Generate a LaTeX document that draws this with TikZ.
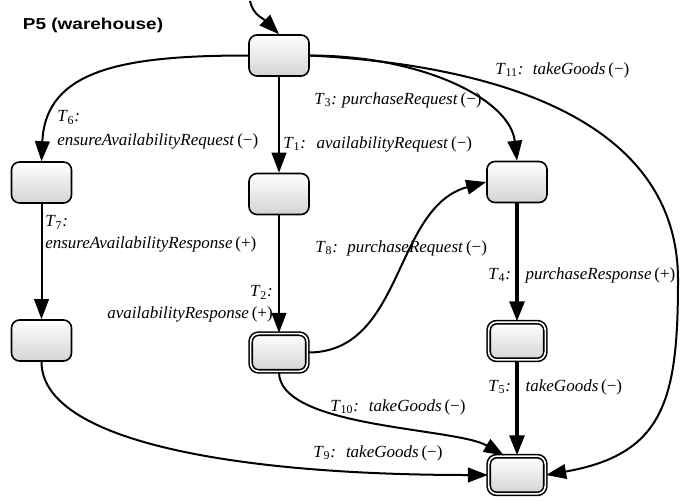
\documentclass[tikz,border=0pt]{standalone}
\usepackage{fontspec}
\setmainfont{Liberation Serif}
\newfontfamily\titlefont{Liberation Sans}[FakeStretch=1.2]
\usetikzlibrary{arrows.meta,positioning}

\newcommand{\tlab}[2]{\textit{T}\textsubscript{#1}\textit{:}\hspace{#2}}
\newcommand{\act}[2]{\textit{#1}\,(#2)}

\begin{document}
\begin{tikzpicture}[x=0.75pt, y=0.75pt,
    state/.style={rectangle, draw, line width=1.2pt, rounded corners=6pt, top color=white, bottom color=black!17, minimum width=45pt, minimum height=30.75pt, inner sep=0pt},
    accept/.style={state, double, double distance=1.2pt, minimum width=42.5pt, minimum height=28.25pt},
    line/.style={draw, -{Triangle[length=15pt,width=11pt]}, line width=1.5pt},
    heavy/.style={line, line width=2.8pt},
    lbl/.style={inner sep=0pt, font=\fontsize{12.75}{16.5}\selectfont}]

    \useasboundingbox (0,0) rectangle (680,-500);

    \node [anchor=base west, inner sep=0pt, font=\titlefont\bfseries\fontsize{11.85}{14}\selectfont] (title) at (22.7,-29) {P5 (warehouse)};

    % states
    \node [state] (s0) at (279,-55.5) {};
    \node [state] (s1) at (279,-194) {};
    \node [state] (s6) at (41.5,-182.5) {};
    \node [state] (s3) at (517,-182) {};
    \node [state] (s7) at (41.5,-340.5) {};
    \node [accept] (s2) at (279,-352.5) {};
    \node [accept] (s4) at (517,-341) {};
    \node [accept] (s5) at (517,-475) {};

    \coordinate (init) at (250,-1);
    \coordinate (bend) at (678,-280);

    % transitions
    \path [line] (init) .. controls +(3,-14) and +(-16,16) .. (s0.north);
    \path [line] (s0) -- (s1);
    \path [line] (s0.west) .. controls +(-124,0) and +(4,92) .. (s6.north);
    \path [line] (s0.east) .. controls +(111,0) and +(-7,62) .. (s3.north);
    \path [line] (s0.east) to[out=-3, in=90] (bend) to[out=-90, in=10, looseness=1.3] (s5.east);
    \path [line] (s6) -- (s7);
    \path [line] (s1) -- (s2);
    \path [line] (s2.east) .. controls +(96,0) and +(-93,-25) .. (s3.west);
    \path [heavy] (s3) -- (s4);
    \path [heavy] (s4) -- (s5);
    \path [line] (s2.south) to[out=-90, in=150, looseness=0.6] ([xshift=12pt]s5.north west);
    \path [line] (s7.south) .. controls +(0,-80) and +(-250,0) .. (s5.west);

    % labels
    \node [lbl, anchor=west, align=left] (l6) at (57,-130) {\tlab{6}{0pt}\\[1.5pt]\act{ensureAvailabilityRequest}{−}};
    \node [lbl, anchor=west] (l1) at (283,-144) {\tlab{1}{8pt}\act{availabilityRequest}{−}};
    \node [lbl, anchor=west] (l3) at (314,-100) {\tlab{3}{3.75pt}\act{purchaseRequest}{−}};
    \node [lbl, anchor=west] (l11) at (495,-70) {\tlab{11}{7pt}\act{takeGoods}{−}};
    \node [lbl, anchor=west, align=left] (l7) at (45,-234) {\tlab{7}{0pt}\\\act{ensureAvailabilityResponse}{+}};
    \node [lbl, anchor=west] (l8) at (315,-248) {\tlab{8}{7pt}\act{purchaseRequest}{−}};
    \node [lbl, anchor=east, align=right] (l2) at (273,-304) {\tlab{2}{0pt}\\\act{availabilityResponse}{+}};
    \node [lbl, anchor=west] (l4) at (488,-275) {\tlab{4}{11pt}\act{purchaseResponse}{+}};
    \node [lbl, anchor=west] (l5) at (488,-387) {\tlab{5}{11pt}\act{takeGoods}{−}};
    \node [lbl, anchor=west] (l10) at (330,-407) {\tlab{10}{7.5pt}\act{takeGoods}{−}};
    \node [lbl, anchor=west] (l9) at (313,-453) {\tlab{9}{7.5pt}\act{takeGoods}{−}};
\end{tikzpicture}
\end{document}
